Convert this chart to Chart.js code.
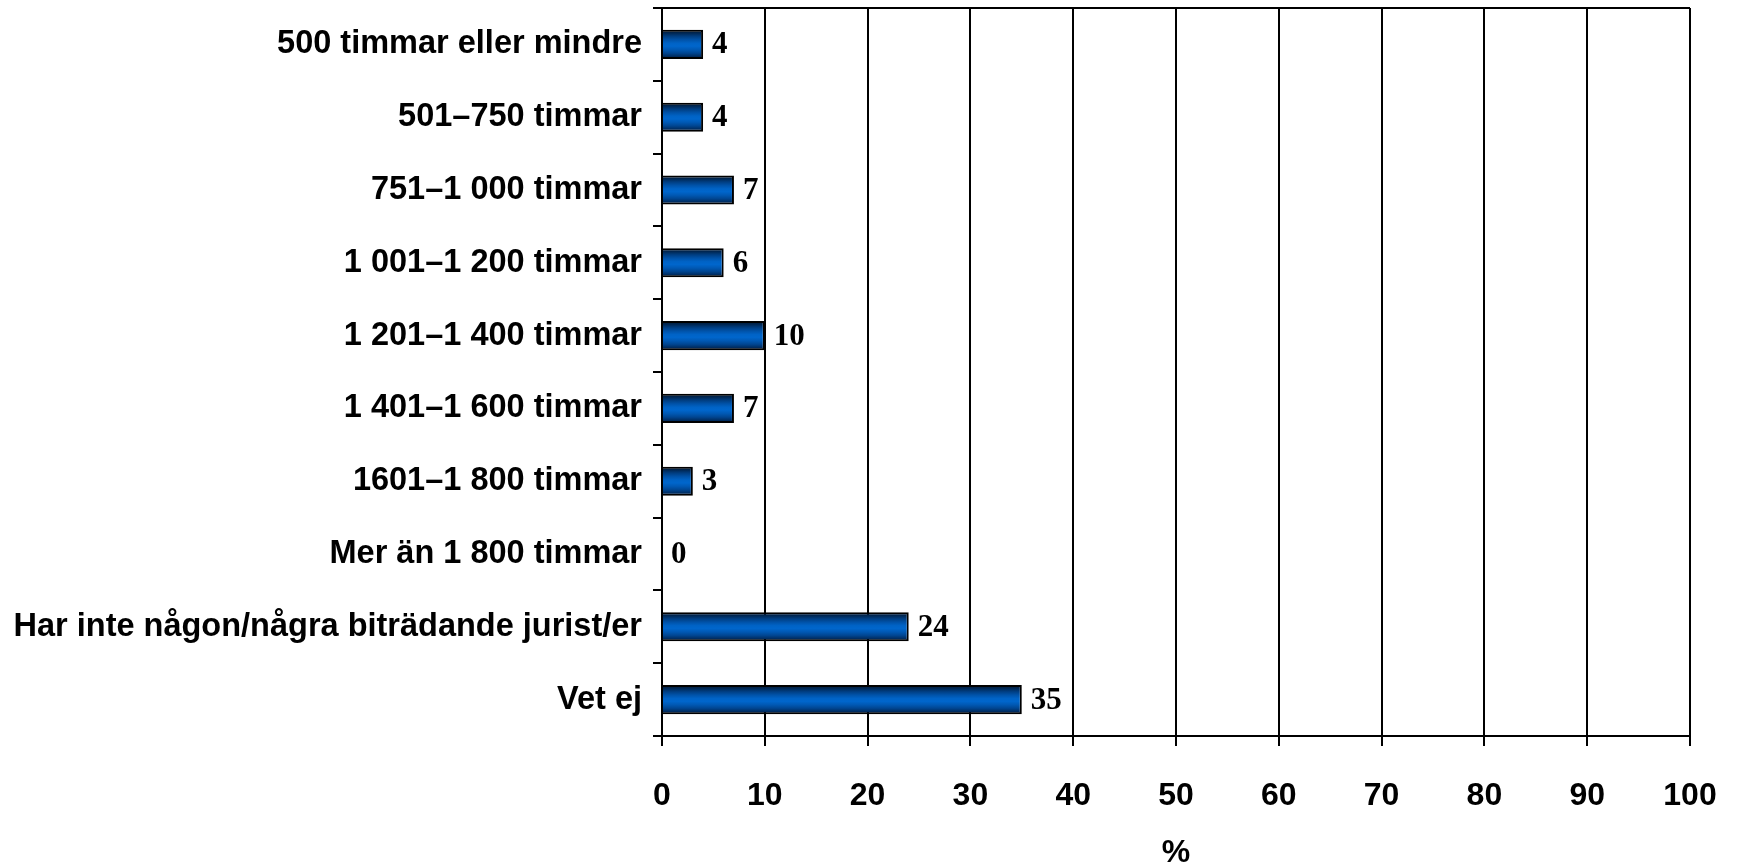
<!DOCTYPE html>
<html>
<head>
<meta charset="utf-8">
<script src="https://cdn.jsdelivr.net/npm/chart.js@4"></script>
<style>
  html, body { margin: 0; padding: 0; background: #fff; }
  #wrap { width: 1740px; height: 868px; }
</style>
</head>
<body>
<div id="wrap"><canvas id="c" width="1740" height="868"></canvas></div>
<script>
const categories = [
  "500 timmar eller mindre",
  "501–750 timmar",
  "751–1 000 timmar",
  "1 001–1 200 timmar",
  "1 201–1 400 timmar",
  "1 401–1 600 timmar",
  "1601–1 800 timmar",
  "Mer än 1 800 timmar",
  "Har inte någon/några biträdande jurist/er",
  "Vet ej"
];
const values = [4, 4, 7, 6, 10, 7, 3, 0, 24, 35];
const xTicks = [0, 10, 20, 30, 40, 50, 60, 70, 80, 90, 100];
const axisTitle = "%";

const gradientPlugin = {
  id: 'barGradient',
  beforeDatasetsDraw(chart) {
    const ctx = chart.ctx;
    chart.getDatasetMeta(0).data.forEach(el => {
      const top = el.y - el.height / 2;
      const bot = el.y + el.height / 2;
      const g = ctx.createLinearGradient(0, top, 0, bot);
      g.addColorStop(0.0, '#001a3a');
      g.addColorStop(0.1, '#00244d');
      g.addColorStop(0.22, '#003d80');
      g.addColorStop(0.34, '#0052a8');
      g.addColorStop(0.46, '#0063c6');
      g.addColorStop(0.56, '#0066cc');
      g.addColorStop(0.68, '#0058b3');
      g.addColorStop(0.8, '#004590');
      g.addColorStop(0.92, '#002a5c');
      g.addColorStop(1.0, '#001a3a');
      el.options.backgroundColor = g;
    });
  }
};

const valueLabelPlugin = {
  id: 'valueLabels',
  afterDatasetsDraw(chart) {
    const ctx = chart.ctx;
    const meta = chart.getDatasetMeta(0);
    ctx.save();
    ctx.font = 'bold 31px "Liberation Serif", "Times New Roman", serif';
    ctx.fillStyle = '#000';
    ctx.textAlign = 'left';
    ctx.textBaseline = 'middle';
    meta.data.forEach((el, i) => {
      ctx.fillText(String(values[i]), el.x + 9, el.y + 1);
    });
    ctx.restore();
  }
};

new Chart(document.getElementById('c'), {
  type: 'bar',
  data: {
    labels: categories,
    datasets: [{
      data: values,
      backgroundColor: () => '#0066cc',
      borderColor: '#000',
      borderWidth: 2,
      categoryPercentage: 1.0,
      barPercentage: 0.4
    }]
  },
  options: {
    indexAxis: 'y',
    responsive: false,
    animation: false,
    devicePixelRatio: 1,
    layout: { padding: { top: 8, right: 50, left: 0, bottom: 0 } },
    plugins: {
      legend: { display: false },
      tooltip: { enabled: false },
      title: { display: false }
    },
    scales: {
      x: {
        type: 'linear',
        min: 0,
        max: 100,
        afterBuildTicks(scale) { scale.ticks = xTicks.map(v => ({ value: v })); },
        afterFit(scale) {
          scale.height = 132;
          scale.paddingLeft = 0;
          scale.paddingRight = 0;
        },
        border: { display: true, color: '#000', width: 2 },
        grid: {
          display: true,
          color: '#000',
          lineWidth: 2,
          drawTicks: true,
          tickLength: 10,
          tickColor: '#000'
        },
        ticks: {
          color: '#000',
          padding: 31,
          font: { family: '"Liberation Sans", Arial, sans-serif', size: 32, weight: 'bold' },
          maxRotation: 0
        },
        title: {
          display: true,
          text: axisTitle,
          color: '#000',
          font: { family: '"Liberation Sans", Arial, sans-serif', size: 32, weight: 'bold', lineHeight: 0.9 },
          padding: { top: 0, bottom: 0 }
        }
      },
      y: {
        afterFit(scale) {
          scale.width = 662;
          scale.paddingTop = 0;
          scale.paddingBottom = 0;
        },
        border: { display: true, color: '#000', width: 2 },
        grid: {
          display: true,
          offset: true,
          drawOnChartArea: true,
          color: (ctx) => (ctx.index === 0 ? '#000' : 'rgba(0,0,0,0)'),
          tickColor: '#000',
          lineWidth: 2,
          tickLength: 9
        },
        ticks: {
          color: '#000',
          padding: 11,
          autoSkip: false,
          font: { family: '"Liberation Sans", Arial, sans-serif', size: 32.5, weight: 'bold' }
        }
      }
    }
  },
  plugins: [gradientPlugin, valueLabelPlugin]
});
</script>
</body>
</html>
